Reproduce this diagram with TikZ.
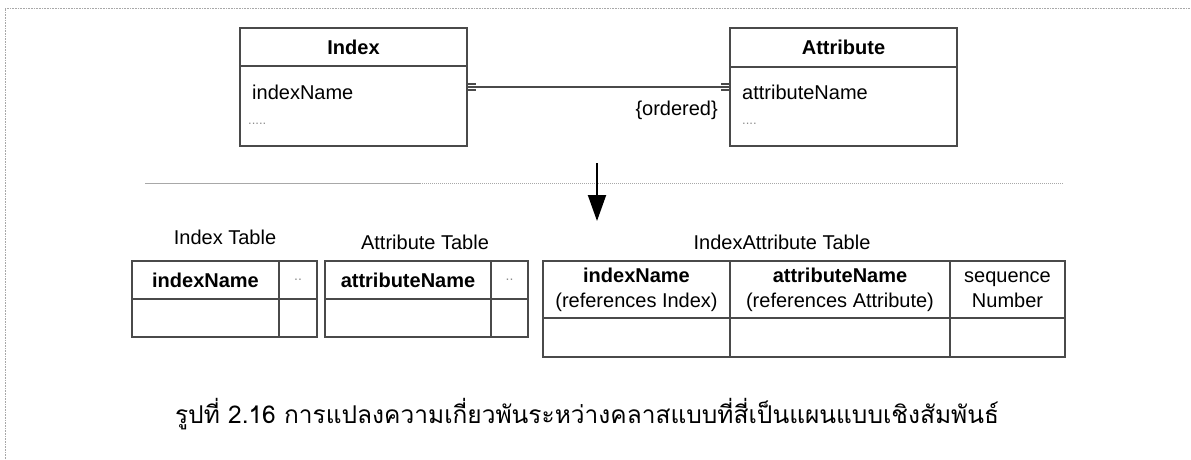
\documentclass[tikz,border=0pt]{standalone}
\usepackage{fontspec}
\setmainfont{Liberation Sans}
\newfontfamily\thaifont[Script=Thai]{Loma}
\usetikzlibrary{arrows.meta}
\definecolor{edge}{HTML}{4A4A4A}
\definecolor{faint}{HTML}{A8A8A8}
\definecolor{dotgray}{HTML}{8C8C8C}
\tikzset{
  txt/.style={font=\fontsize{20}{25}\selectfont, inner sep=0pt},
  boldtxt/.style={font=\fontsize{20}{25}\selectfont\bfseries, inner sep=0pt},
  frame/.style={draw=edge, line width=1.1pt, inner sep=0pt, outer sep=0pt, anchor=north west},
  cell/.style={frame, align=center, font=\fontsize{20}{25}\selectfont},
  dots/.style={font=\fontsize{13}{13}\selectfont, text=dotgray, inner sep=0pt},
}
\newcommand{\celldots}{{\fontsize{14}{14}\selectfont\color{dotgray}..}}
\begin{document}
\begin{tikzpicture}[x=1pt,y=-1pt]
\useasboundingbox (0,0) rectangle (1191,459);

% page frame (dotted top and left edges)
\draw[faint, densely dotted, line width=0.6pt] (5,459) -- (5,8) -- (1191,8);

% ---- UML classes ----
\node[frame, minimum width=227pt, minimum height=118pt] (idx) at (240,28) {};
\draw[edge, line width=1.1pt] (240,66) -- (467,66);
\node[boldtxt] (idxT) at (353.5,47) {Index};
\node[txt, anchor=west] (idxA) at (252,92) {indexName};
\node[dots, anchor=west] (idxD) at (248,124) {.....};

\node[frame, minimum width=227pt, minimum height=118pt] (att) at (730,28) {};
\draw[edge, line width=1.1pt] (730,67) -- (957,67);
\node[boldtxt] (attT) at (843.5,47) {Attribute};
\node[txt, anchor=west] (attA) at (742,92) {attributeName};
\node[dots, anchor=west] (attD) at (742,124) {....};

% association with qualifier stubs at both ends
\draw[edge, line width=1.1pt] (idx.east) -- (att.west);
\draw[edge, line width=2.2pt] ([yshift=-2.8pt]idx.east) -- ++(9,0)
                                ([yshift=2.8pt]idx.east) -- ++(9,0);
\draw[edge, line width=2.2pt] ([yshift=-2.8pt]att.west) -- ++(-9,0)
                                ([yshift=2.8pt]att.west) -- ++(-9,0);
\node[txt, anchor=east] (ord) at (718,110) {\{ordered\}};

% separator line
\coordinate (sepL) at (145,183);
\coordinate (sepM) at (420,183);
\coordinate (sepR) at (1063,183);
\draw[faint, line width=1pt] (sepL) -- (sepM);
\draw[faint, densely dotted, line width=1pt] (sepM) -- (sepR);

% transformation arrow
\coordinate (arrS) at (597,163);
\coordinate (arrE) at (597,221);
\draw[black, line width=2pt, -{Triangle[length=26pt,width=18pt]}] (arrS) -- (arrE);

% ---- relational tables ----
\node[txt] (lblI) at (225,237) {Index Table};
\node[txt] (lblA) at (425,242) {Attribute Table};
\node[txt] (lblIA) at (782,242) {IndexAttribute Table};

% Index table
\node[cell, minimum width=147pt, minimum height=38pt] (i11) at (132,261) {\bfseries indexName};
\node[cell, minimum width=38pt, minimum height=38pt] (i12) at (279,261) {\celldots};
\node[cell, minimum width=147pt, minimum height=38pt] (i21) at (132,299) {};
\node[cell, minimum width=38pt, minimum height=38pt] (i22) at (279,299) {};

% Attribute table
\node[cell, minimum width=166pt, minimum height=38pt] (a11) at (325,261) {\bfseries attributeName};
\node[cell, minimum width=37pt, minimum height=38pt] (a12) at (491,261) {\celldots};
\node[cell, minimum width=166pt, minimum height=38pt] (a21) at (325,299) {};
\node[cell, minimum width=37pt, minimum height=38pt] (a22) at (491,299) {};

% IndexAttribute table
\node[cell, minimum width=187pt, minimum height=57pt] (x11) at (543,261) {\textbf{indexName}\\(references Index)};
\node[cell, minimum width=220pt, minimum height=57pt] (x12) at (730,261) {\textbf{attributeName}\\(references Attribute)};
\node[cell, minimum width=115pt, minimum height=57pt] (x13) at (950,261) {sequence\\Number};
\node[cell, minimum width=187pt, minimum height=39pt] (x21) at (543,318) {};
\node[cell, minimum width=220pt, minimum height=39pt] (x22) at (730,318) {};
\node[cell, minimum width=115pt, minimum height=39pt] (x23) at (950,318) {};

% caption
\node[inner sep=0pt, anchor=base, font=\thaifont\fontsize{24.5}{30}\selectfont] (cap) at (587,423)
  {รูปที่ 2.16 การแปลงความเกี่ยวพันระหว่างคลาสแบบที่สี่เป็นแผนแบบเชิงสัมพันธ์};
\end{tikzpicture}
\end{document}
